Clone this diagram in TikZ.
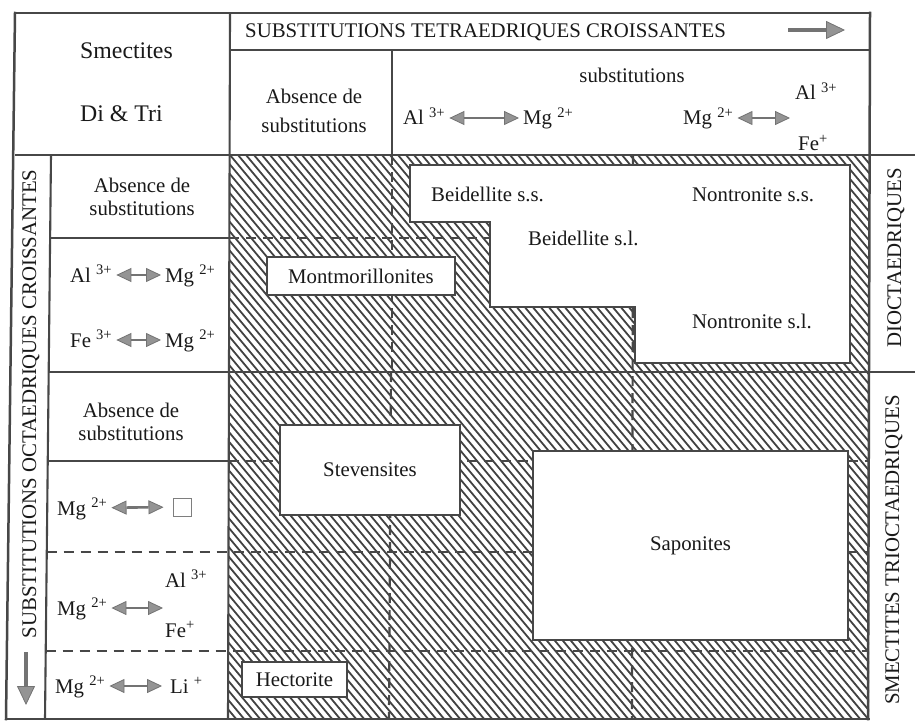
\documentclass[tikz,border=0pt]{standalone}
\usepackage{fontspec}
\setmainfont{Liberation Serif}
\usetikzlibrary{arrows.meta}

\definecolor{ink}{gray}{0.28}
\definecolor{hatchc}{gray}{0.26}
\definecolor{shaft}{gray}{0.45}
\definecolor{tipfill}{gray}{0.58}
\definecolor{txt}{gray}{0.10}

\tikzset{
  frameline/.style={draw=ink, line width=2.5pt, line cap=rect},
  gridline/.style={draw=ink, line width=2.1pt},
  dashline/.style={draw=ink, line width=2.2pt, dash pattern=on 10pt off 7pt},
  hatchline/.style={draw=hatchc, line width=1.8pt},
  wbox/.style={draw=ink, line width=2.6pt, fill=white, inner sep=0pt},
  lbl/.style={font=\fontsize{20.8}{23}\selectfont, text=txt, inner sep=0pt},
  biglbl/.style={font=\fontsize{23.8}{26}\selectfont, text=txt, inner sep=0pt},
  ion/.style={lbl, text height=16pt, text depth=2pt, inner xsep=4pt, anchor=west},
  dblarrow/.style={draw=shaft, line width=2.6pt,
    >={Triangle[length=15pt,width=14pt,fill=tipfill,line width=0.8pt]}, <->},
  bigarrow/.style={draw=shaft, line width=3.4pt,
    >={Triangle[length=19pt,width=18pt,fill=tipfill,line width=0.8pt]}, ->},
}

\begin{document}
\begin{tikzpicture}[x=1pt,y=-1pt]
\useasboundingbox[fill=white] (0,0) rectangle (915,722);

% hatched field of the table body
\begin{scope}
  \clip (229,155) rectangle (869,719);
  \foreach \k in {-250,-242,...,870}
    \draw[hatchline] (\k,155) -- ++(471,565);
\end{scope}

% dashed subdivisions inside the body and the left column
\draw[dashline] (229,238) -- (490,238);
\draw[dashline] (229,461) -- (533,461);
\draw[dashline] (848,461) -- (869,461);
\draw[dashline] (46.5,552) -- (533,552);
\draw[dashline] (848,552) -- (869,552);
\draw[dashline] (45.5,651) -- (869,651);
\draw[dashline] (392,155) -- (392,372);
\draw[dashline] (391,372) -- (389,719);
\draw[dashline] (633,155) -- (632,719);

% dioctahedral field: Beidellite / Nontronite
\draw[wbox] (410,165) -- (850,165) -- (850,363) -- (635,363) -- (635,307)
  -- (490,307) -- (490,222) -- (410,222) -- cycle;

% mineral boxes
\node[wbox, lbl, draw=ink, fill=white, minimum width=188pt, minimum height=38pt] (mont) at (361,276) {Montmorillonites};
\node[wbox, lbl, draw=ink, fill=white, minimum width=180pt, minimum height=90pt] (stev) at (370,470) {Stevensites};
\node[wbox, lbl, draw=ink, fill=white, minimum width=315pt, minimum height=189pt] (sapo) at (690.5,545.5) {Saponites};
\node[wbox, lbl, draw=ink, fill=white, minimum width=105pt, minimum height=35pt] (hect) at (294.5,679.5) {Hectorite};

\node[lbl, anchor=base west] (beiss) at (431,201) {Beidellite s.s.};
\node[lbl, anchor=base west] (nonss) at (692,201) {Nontronite s.s.};
\node[lbl, anchor=base west] (beisl) at (528,245) {Beidellite s.l.};
\node[lbl, anchor=base west] (nonsl) at (692,328) {Nontronite s.l.};

% table frame and solid rules
\draw[frameline] (15,13) -- (869,13);
\draw[frameline] (15,13) -- (6,719);
\draw[frameline] (6,719) -- (869,719);
\draw[frameline] (870,13) -- (868,719);
\draw[gridline] (229,50) -- (869,50);
\draw[gridline] (392,50) -- (392,155);
\draw[gridline] (230,13) -- (228,719);
\draw[gridline] (15,155) -- (915,155);
\draw[gridline] (48.5,372) -- (915,372);
\draw[gridline] (51,155) -- (45,719);
\draw[gridline] (50,238) -- (229,238);
\draw[gridline] (47.5,461) -- (229,461);

% header
\node[biglbl, anchor=base west] (smec) at (80,59) {Smectites};
\node[biglbl, anchor=base west] (ditri) at (80,122) {Di \& Tri};
\node[lbl, anchor=base west] (tetra) at (245,38) {SUBSTITUTIONS TETRAEDRIQUES CROISSANTES};
\coordinate (ta1) at (788,30);
\coordinate (ta2) at (845,30);
\draw[bigarrow] (ta1) -- (ta2);

\node[lbl, align=center] (habs) at (314,110.5) {Absence de\\[6pt]substitutions};
\node[lbl, anchor=base] (hsub) at (632,83) {substitutions};
\node[ion] (ha1) at (399,118) {Al \textsuperscript{3+}};
\node[ion] (hm1) at (519,118) {Mg \textsuperscript{2+}};
\draw[dblarrow] (ha1) -- (hm1);
\node[ion] (hm2) at (679,118) {Mg \textsuperscript{2+}};
\coordinate (hx) at (790,118);
\draw[dblarrow] (hm2) -- (hx);
\node[ion] (hal) at (791,93) {Al \textsuperscript{3+}};
\node[ion] (hfe) at (794,144) {Fe\textsuperscript{+}};

% left column: octahedral substitutions
\node[lbl, rotate=90] (octa) at (31,404) {SUBSTITUTIONS OCTAEDRIQUES CROISSANTES};
\coordinate (oa1) at (26,652);
\coordinate (oa2) at (26,705);
\draw[bigarrow] (oa1) -- (oa2);

\node[lbl, align=center] (rabs1) at (142,196.5) {Absence de\\substitutions};
\node[ion] (r2al) at (66,275) {Al \textsuperscript{3+}};
\node[ion] (r2mg) at (161,275) {Mg \textsuperscript{2+}};
\draw[dblarrow] (r2al) -- (r2mg);
\node[ion] (r2fe) at (66,340) {Fe \textsuperscript{3+}};
\node[ion] (r2mg2) at (161,340) {Mg \textsuperscript{2+}};
\draw[dblarrow] (r2fe) -- (r2mg2);

\node[lbl, align=center] (rabs2) at (131,421.5) {Absence de\\substitutions};
\node[ion] (r4mg) at (53,508) {Mg \textsuperscript{2+}};
\node[draw=ink!70, line width=1pt, minimum size=18pt, inner sep=0pt] (r4v) at (182,507) {};
\draw[dblarrow, shorten >=9pt] (r4mg) -- (r4v);

\node[ion] (r5mg) at (53,608) {Mg \textsuperscript{2+}};
\coordinate (r5x) at (163,608);
\draw[dblarrow] (r5mg) -- (r5x);
\node[ion] (r5al) at (161,580) {Al \textsuperscript{3+}};
\node[ion] (r5fe) at (161,630) {Fe\textsuperscript{+}};

\node[ion] (r6mg) at (51,686) {Mg \textsuperscript{2+}};
\node[ion] (r6li) at (166,686) {Li \textsuperscript{+}};
\draw[dblarrow, shorten >=4pt] (r6mg) -- (r6li);

% right column: di- and trioctahedral smectites
\node[lbl, rotate=90] (dioc) at (896,258) {DIOCTAEDRIQUES};
\node[lbl, rotate=90] (trioc) at (894,550) {SMECTITES TRIOCTAEDRIQUES};
\end{tikzpicture}
\end{document}
